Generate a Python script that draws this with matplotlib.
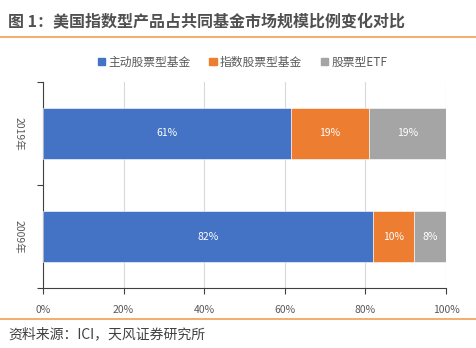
import matplotlib
matplotlib.use("Agg")
import matplotlib.pyplot as plt
from matplotlib.lines import Line2D
from matplotlib.patches import Patch
import numpy as np

plt.rcParams['font.family'] = ['Noto Sans CJK SC', 'DejaVu Sans']

years = ['2009年', '2019年']
series_names = ['主动股票型基金', '指数股票型基金', '股票型ETF']
# raw label values per year (2009, 2019)
active = [82, 61]
index_fund = [10, 19]
etf = [8, 19]
colors = ['#4472C4', '#ED7D31', '#A5A5A5']

raw = np.array([active, index_fund, etf], dtype=float)
share = raw / raw.sum(axis=0) * 100

fig = plt.figure(figsize=(4.76, 3.48), dpi=100)
ax = fig.add_axes([43 / 476, 1 - 288 / 348, 403 / 476, 206 / 348])

y = np.arange(len(years))
left = np.zeros(len(years))
for i, name in enumerate(series_names):
    bars = ax.barh(y, share[i], left=left, height=0.49, color=colors[i],
                   edgecolor='white', linewidth=0.4, label=name, zorder=3)
    for j, b in enumerate(bars):
        ax.text(left[j] + share[i][j] / 2, y[j], f'{raw[i][j]:.0f}%',
                ha='center', va='center', color='white', fontsize=7.5, zorder=4)
    left += share[i]

ax.set_xlim(0, 100)
ax.set_ylim(-0.5, len(years) - 0.5)
ax.set_xticks(np.arange(0, 101, 20))
ax.set_xticklabels([f'{v}%' for v in range(0, 101, 20)])
ax.set_yticks(y)
ax.set_yticklabels(years, rotation=-90, va='center')
ax.set_yticks(np.arange(-0.5, len(years), 1), minor=True)
ax.tick_params(axis='y', which='major', length=0, pad=14, labelsize=7.5, labelcolor='#595959')
ax.tick_params(axis='y', which='minor', length=4, color='#404040', width=0.8)
ax.tick_params(axis='x', length=4, color='#404040', width=0.8, labelsize=7.5,
               labelcolor='#595959', pad=8)
ax.grid(axis='x', color='#D9D9D9', linewidth=0.8, zorder=0)
for s in ['top', 'right']:
    ax.spines[s].set_visible(False)
for s in ['left', 'bottom']:
    ax.spines[s].set_color('#404040')
    ax.spines[s].set_linewidth(0.8)

handles = [Patch(color=c) for c in colors]
fig.legend(handles, series_names, loc='center', bbox_to_anchor=(0.51, 1 - 62 / 348),
           ncol=3, frameon=False, fontsize=8.5, handlelength=0.6, handleheight=0.6,
           handletextpad=0.3, columnspacing=1.6, labelcolor='#595959')

fig.text(8 / 476, 1 - 22 / 348, '图 1：美国指数型产品占共同基金市场规模比例变化对比',
         fontsize=11.5, fontweight='bold', color='#505050', va='center', ha='left')
fig.add_artist(Line2D([0, 1], [1 - 37 / 348] * 2, color='#F0A050', linewidth=1.2))
fig.add_artist(Line2D([0, 1], [1 - 319 / 348] * 2, color='#F0A050', linewidth=1.2))
fig.text(8 / 476, 1 - 334 / 348, '资料来源：ICI，天风证券研究所',
         fontsize=10, color='#404040', va='center', ha='left')

fig.savefig('out.png', dpi=100)
